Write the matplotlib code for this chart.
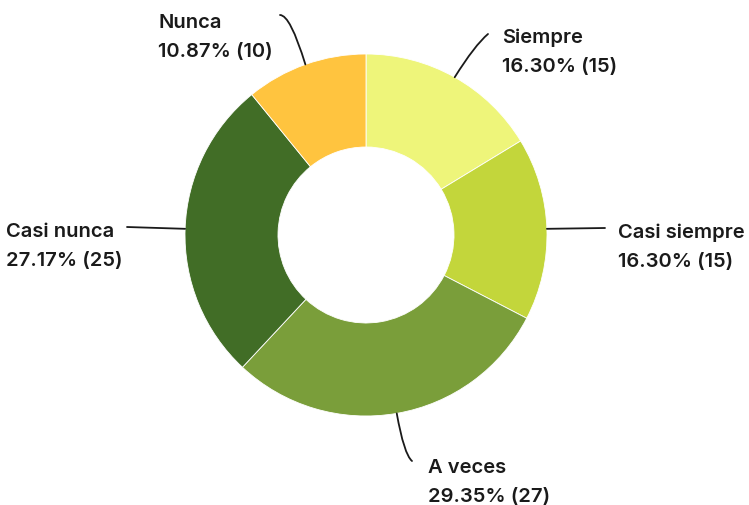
import numpy as np
import matplotlib
matplotlib.use('Agg')
import matplotlib.pyplot as plt

labels = ['Siempre', 'Casi siempre', 'A veces', 'Casi nunca', 'Nunca']
counts = [15, 15, 27, 25, 10]
colors = ['#eef57a', '#c3d63b', '#7a9e3a', '#416d26', '#ffc43f']

# label layout in pixel coords (image y from top): text x, baseline of line 1,
# leader start, connection style
label_pos = {
    'Siempre': (502, 43, (488, 35), 'angle3,angleA=40,angleB=58'),
    'Casi siempre': (618, 238, (605, 229), 'arc3,rad=0'),
    'A veces': (428, 473, (412, 462), 'angle3,angleA=-40,angleB=-80'),
    'Casi nunca': (6, 237, (127, 228), 'arc3,rad=0'),
    'Nunca': (158, 28, (280, 16), 'angle3,angleA=0,angleB=107'),
}

W, H = 749, 506
cx, cy = 366, 236
r_out, r_in = 181, 88

plt.rcParams['font.family'] = ['Inter', 'DejaVu Sans']

fig = plt.figure(figsize=(W / 100, H / 100), dpi=100)
ax = fig.add_axes([0, 0, 1, 1])

wedges, _ = ax.pie(counts, colors=colors, startangle=90, counterclock=False,
                   center=(cx, H - cy), radius=r_out, frame=True,
                   wedgeprops=dict(width=r_out - r_in, edgecolor='white', linewidth=0.6))
ax.set_xlim(0, W)
ax.set_ylim(0, H)
ax.axis('off')

total = sum(counts)
for w, lab, n in zip(wedges, labels, counts):
    ang = np.deg2rad((w.theta1 + w.theta2) / 2)
    px = cx + r_out * np.cos(ang)
    py = (H - cy) + r_out * np.sin(ang)
    tx, ty, (lx, ly), cs = label_pos[lab]
    ax.annotate('', xy=(px, py), xytext=(lx, H - ly),
                arrowprops=dict(arrowstyle='-', color='#1a1a1a', lw=1.3,
                                shrinkA=0, shrinkB=0, connectionstyle=cs))
    ax.text(tx, H - ty, lab, fontsize=14.5, fontweight='semibold', color='#1a1a1a',
            ha='left', va='baseline')
    ax.text(tx, H - ty - 29, f'{n / total * 100:.2f}% ({n})', fontsize=14.5,
            fontweight='semibold', color='#1a1a1a', ha='left', va='baseline')

fig.savefig('out.png', dpi=100, facecolor='white')
